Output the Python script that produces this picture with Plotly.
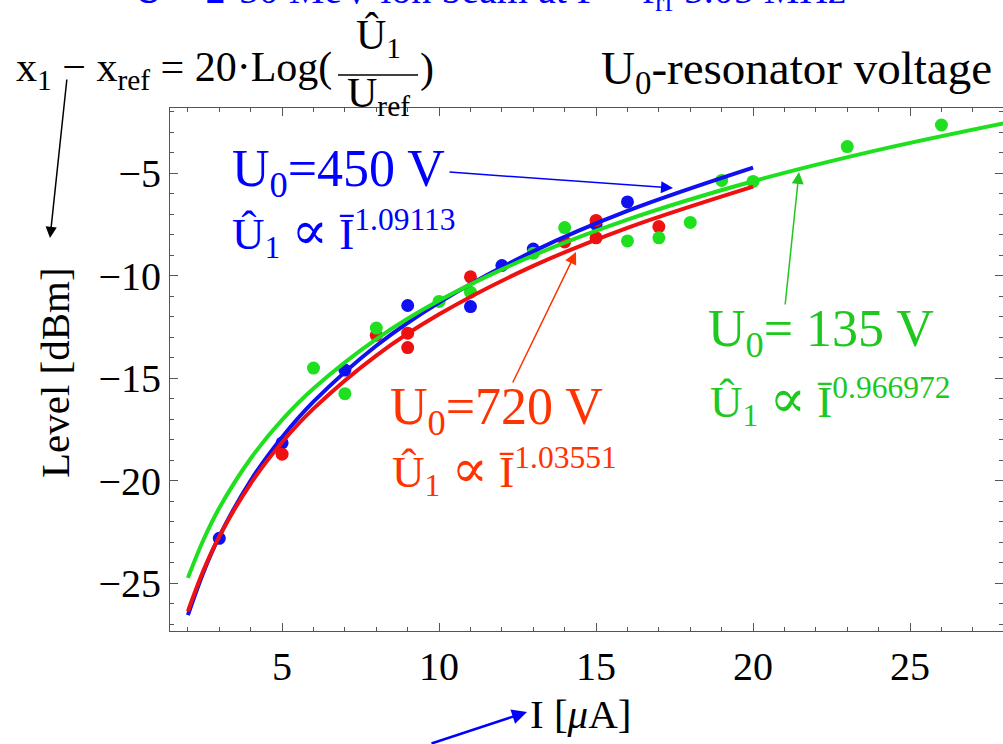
import plotly.graph_objects as go

# ---------------- data ----------------
blue_I = [3, 5, 7, 9, 11, 12, 13, 15, 16]
blue_L = [-22.8, -18.15, -14.6, -11.45, -11.5, -9.5, -8.7, -7.5, -6.4]

red_I = [5, 8, 9, 9, 11, 14, 15, 15, 17]
red_L = [-18.7, -12.9, -12.8, -13.5, -10.05, -8.35, -7.3, -8.15, -7.6]

green_I = [6, 7, 8, 10, 11, 13, 14, 16, 17, 18, 19, 20, 23, 26]
green_L = [-14.5, -15.75, -12.55, -11.25, -10.8, -8.9, -7.65, -8.3, -8.15, -7.4, -5.35, -5.4, -3.7, -2.65]

# fitted curves, sampled along the drawn lines
fit_I = [2, 2.5, 3, 4, 5, 6, 8, 10, 13, 16, 20]
blue_fit = [-26.55, -24.44, -22.71, -19.98, -17.87, -16.14, -13.41, -11.30, -8.81, -6.84, -4.73]
red_fit = [-26.36, -24.35, -22.71, -20.13, -18.12, -16.48, -13.89, -11.88, -9.52, -7.66, -5.65]
green_fit_I = [2, 2.5, 3, 4, 5, 6, 8, 10, 13, 16, 20, 24, 28]
green_fit = [-24.73, -22.86, -21.32, -18.91, -17.03, -15.50, -13.09, -11.21, -9.01, -7.26, -5.39, -3.86, -2.56]

x_tickvals = [5, 10, 15, 20, 25]
x_ticktext = ["5", "10", "15", "20", "25"]
y_tickvals = [-5, -10, -15, -20, -25]
y_ticktext = ["\u22125", "\u221210", "\u221215", "\u221220", "\u221225"]

# ---------------- styling ----------------
W, H = 1003, 744
ML, MR, MT, MB = 170, 0, 108, 113
PW, PH = W - ML - MR, H - MT - MB
FONT = "Liberation Serif"

C_BLUE = "#1010f0"
C_RED = "#ee1111"
C_GREEN = "#1fe01f"
T_BLUE = "#0000ff"
T_RED = "#ff3300"
T_GREEN = "#1ec81e"
PROP = "<span style='font-family:DejaVu Serif;font-size:54px'>\u221d</span>"


def px(x):
    return (x - ML) / PW


def py(y):
    return (H - MB - y) / PH


fig = go.Figure()

for xs, ys, c in [(blue_I, blue_L, C_BLUE), (red_I, red_L, C_RED), (green_I, green_L, C_GREEN)]:
    fig.add_trace(go.Scatter(x=xs, y=ys, mode="markers",
                             marker=dict(size=13, color=c, line=dict(width=0)),
                             showlegend=False, hoverinfo="skip"))

for xs, ys, c in [(fit_I, blue_fit, C_BLUE), (green_fit_I, green_fit, C_GREEN), (fit_I, red_fit, C_RED)]:
    fig.add_trace(go.Scatter(x=xs, y=ys, mode="lines",
                             line=dict(color=c, width=4, shape="spline", smoothing=1.0),
                             showlegend=False, hoverinfo="skip"))

annotations = []


def text(x, y, s, size, color="black", xanchor="left", yanchor="middle", angle=0):
    annotations.append(dict(x=px(x), y=py(y), xref="paper", yref="paper", text=s,
                            showarrow=False, xanchor=xanchor, yanchor=yanchor, textangle=angle,
                            font=dict(family=FONT, size=size, color=color)))


def arrow(tailx, taily, headx, heady, color, width=1.5, size=1.6):
    annotations.append(dict(x=px(headx), y=py(heady), xref="paper", yref="paper",
                            ax=tailx - headx, ay=taily - heady, axref="pixel", ayref="pixel",
                            text="", showarrow=True, arrowhead=2, arrowsize=size,
                            arrowwidth=width, arrowcolor=color, standoff=0))


# clipped title at very top (only its lower edge is visible, as in the original)
text(490, 19, "U = 2\u00b750 MeV ion beam at F = f<sub>rf</sub> 5.05 MHz", 40, T_BLUE,
     xanchor="center", yanchor="bottom")

# formula
text(14, 70, "x<sub>1</sub> \u2212 x<sub>ref</sub> = 20\u00b7Log(", 42)
text(378, 38, "\u00db<sub>1</sub>", 42, xanchor="center")
text(378, 96, "U<sub>ref</sub>", 42, xanchor="center")
text(418, 68, ")", 42)
text(994, 72, "U<sub>0</sub>-resonator voltage", 47, xanchor="right")

# series labels
text(230, 172, "U<sub>0</sub>=450 V", 52, T_BLUE)
text(230, 232, "\u00db<sub>1</sub> " + PROP + " \u012a<sup>1.09113</sup>", 45, T_BLUE)
text(388, 410, "U<sub>0</sub>=720 V", 52, T_RED)
text(390, 470, "\u00db<sub>1</sub> " + PROP + " \u012a<sup>1.03551</sup>", 45, T_RED)
text(706, 332, "U<sub>0</sub>= 135 V", 52, T_GREEN)
text(708, 400, "\u00db<sub>1</sub> " + PROP + " \u012a<sup>0.966972</sup>", 45, T_GREEN)

# axis titles
text(55, 373, "Level [dBm]", 41, xanchor="center", angle=-90)
text(580, 714, "I [<i>\u03bc</i>A]", 41, xanchor="center")

# arrows
arrow(67, 78, 50, 238, "black", width=1.5, size=1.5)
arrow(448, 172, 673, 188, T_BLUE, width=1.5, size=1.6)
arrow(512, 384, 576, 252, T_RED, width=1.5, size=1.6)
arrow(785, 306, 799, 172, T_GREEN, width=1.5, size=1.6)
arrow(430, 746, 527, 712, T_BLUE, width=2.5, size=1.2)

shapes = [dict(type="line", xref="paper", yref="paper", x0=px(338), x1=px(418),
               y0=py(75), y1=py(75), line=dict(color="black", width=1.5))]

axis_common = dict(showgrid=False, zeroline=False, showline=True, linecolor="#555",
                   linewidth=1, mirror="ticks", ticks="inside", ticklen=8, tickwidth=1,
                   tickcolor="#555", tickmode="array",
                   tickfont=dict(family=FONT, size=40, color="black"))

fig.update_layout(
    width=W, height=H, autosize=False,
    margin=dict(l=ML, r=MR, t=MT, b=MB, pad=0),
    paper_bgcolor="white", plot_bgcolor="white",
    xaxis=dict(range=[1.43, 27.96], tickvals=x_tickvals, ticktext=x_ticktext,
               minor=dict(tickmode="linear", tick0=0, dtick=1, ticks="inside", ticklen=4,
                          tickcolor="#555"),
               **axis_common),
    yaxis=dict(range=[-27.32, -1.82], tickvals=y_tickvals, ticktext=y_ticktext,
               minor=dict(tickmode="linear", tick0=0, dtick=1, ticks="inside", ticklen=4,
                          tickcolor="#555"),
               **axis_common),
    annotations=annotations, shapes=shapes, showlegend=False,
)

fig.write_html("out.html")
